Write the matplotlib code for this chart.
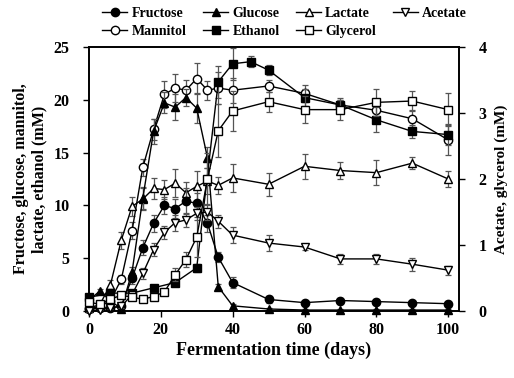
import matplotlib
matplotlib.use("Agg")
import matplotlib.pyplot as plt
from matplotlib.lines import Line2D

plt.rcParams['font.family'] = ['Liberation Serif', 'DejaVu Serif']
plt.rcParams['font.weight'] = 'bold'

days = [0, 3, 6, 9, 12, 15, 18, 21, 24, 27, 30, 33, 36, 40, 50, 60, 70, 80, 90, 100]
eth_days = [0, 6, 12, 18, 24, 30, 36, 40, 45, 50, 60, 70, 80, 90, 100]

fructose = [0.2, 0.3, 0.3, 0.5, 3.1, 6.0, 8.3, 10.0, 9.7, 10.4, 10.2, 8.3, 5.1, 2.7, 1.1, 0.8, 1.0, 0.9, 0.8, 0.7]
fructose_err = [0.1, 0.1, 0.1, 0.2, 0.5, 0.7, 0.8, 0.8, 0.9, 1.2, 1.0, 0.8, 0.5, 0.5, 0.3, 0.2, 0.2, 0.2, 0.2, 0.2]
glucose = [1.0, 1.9, 1.0, 0.2, 3.7, 10.7, 17.0, 19.7, 19.3, 20.2, 19.2, 14.5, 2.3, 0.5, 0.2, 0.1, 0.1, 0.1, 0.1, 0.1]
glucose_err = [0.1, 0.2, 0.1, 0.1, 0.5, 1.0, 1.2, 1.0, 1.2, 0.8, 1.4, 1.0, 0.3, 0.2, 0.1, 0.1, 0.1, 0.1, 0.1, 0.1]
mannitol = [0.3, 0.4, 1.0, 3.0, 7.6, 13.6, 17.2, 20.5, 21.1, 20.9, 22.0, 20.9, 21.1, 20.9, 21.3, 20.6, 19.5, 19.0, 18.2, 16.2]
mannitol_err = [0.1, 0.1, 0.2, 0.4, 0.8, 0.8, 1.0, 1.3, 1.3, 1.0, 1.5, 0.9, 1.5, 1.2, 0.6, 0.8, 0.5, 1.0, 0.8, 1.4]
lactate = [0.3, 0.6, 2.5, 6.7, 9.9, 10.6, 11.6, 11.5, 12.1, 11.2, 11.8, 12.3, 11.9, 12.6, 12.0, 13.7, 13.3, 13.1, 14.0, 12.5]
lactate_err = [0.1, 0.2, 0.4, 0.8, 0.9, 1.0, 1.0, 0.9, 1.3, 1.0, 1.5, 1.2, 0.8, 1.3, 1.1, 1.2, 0.8, 1.2, 0.6, 0.8]
ethanol = [1.3, 1.7, 1.7, 2.2, 2.7, 4.1, 21.7, 23.4, 23.6, 22.8, 20.2, 19.5, 18.1, 17.0, 16.7]
ethanol_err = [0.1, 0.1, 0.1, 0.2, 0.3, 0.4, 1.5, 1.5, 0.5, 0.5, 0.8, 0.7, 1.2, 0.6, 1.0]
acetate = [0.0, 0.02, 0.05, 0.07, 0.25, 0.57, 0.93, 1.19, 1.34, 1.38, 1.48, 1.5, 1.36, 1.15, 1.03, 0.97, 0.79, 0.79, 0.71, 0.62]
acetate_err = [0.01, 0.01, 0.02, 0.03, 0.05, 0.08, 0.1, 0.1, 0.12, 0.1, 0.1, 0.12, 0.1, 0.12, 0.12, 0.05, 0.07, 0.07, 0.1, 0.07]
glycerol = [0.14, 0.1, 0.18, 0.24, 0.21, 0.18, 0.22, 0.29, 0.55, 0.78, 1.12, 2.0, 2.73, 3.03, 3.17, 3.05, 3.05, 3.16, 3.18, 3.05]
glycerol_err = [0.02, 0.02, 0.03, 0.03, 0.03, 0.03, 0.05, 0.05, 0.1, 0.12, 0.3, 0.4, 0.4, 0.3, 0.15, 0.2, 0.15, 0.2, 0.15, 0.25]

fig = plt.figure(figsize=(5.14, 3.78), dpi=100)
ax = fig.add_axes([0.173, 0.177, 0.72, 0.699])
ax2 = ax.twinx()

ms = 6
common = dict(color='black', lw=1.0, ecolor='#555555', elinewidth=0.9, capsize=2.5, capthick=0.9, clip_on=False)

ax.errorbar(days, mannitol, yerr=mannitol_err, marker='o', mfc='white', mec='black', ms=ms, **common, zorder=3)
ax.errorbar(days, lactate, yerr=lactate_err, marker='^', mfc='white', mec='black', ms=ms, **common, zorder=3)
ax.errorbar(days, fructose, yerr=fructose_err, marker='o', mfc='black', mec='black', ms=ms, **common, zorder=4)
ax.errorbar(days, glucose, yerr=glucose_err, marker='^', mfc='black', mec='black', ms=ms, **common, zorder=4)
ax.errorbar(eth_days, ethanol, yerr=ethanol_err, marker='s', mfc='black', mec='black', ms=ms, **common, zorder=4)
ax2.errorbar(days, acetate, yerr=acetate_err, marker='v', mfc='white', mec='black', ms=ms, **common, zorder=3)
ax2.errorbar(days, glycerol, yerr=glycerol_err, marker='s', mfc='white', mec='black', ms=ms, **common, zorder=3)

ax.set_xlim(0, 103)
ax.set_ylim(0, 25)
ax2.set_ylim(0, 4)
ax.set_xticks([0, 20, 40, 60, 80, 100])
ax.set_yticks([0, 5, 10, 15, 20, 25])
ax2.set_yticks([0, 1, 2, 3, 4])

for a in (ax, ax2):
    for s in a.spines.values():
        s.set_linewidth(1.2)
    a.tick_params(direction='out', length=4, width=1.0, labelsize=11.5)
    for lab in a.get_xticklabels() + a.get_yticklabels():
        lab.set_fontweight('bold')
ax.tick_params(axis='y', pad=10)
ax2.tick_params(axis='y', pad=10)

ax.set_xlabel('Fermentation time (days)', fontsize=13, fontweight='bold', labelpad=3)
ax.set_ylabel('Fructose, glucose, mannitol,\nlactate, ethanol (mM)', fontsize=11.5, fontweight='bold', labelpad=4)
ax2.set_ylabel('Acetate, glycerol (mM)', fontsize=11, fontweight='bold', labelpad=6)

def h(marker, fill):
    return Line2D([], [], color='black', lw=1.0, marker=marker, mfc=fill, mec='black', ms=6)

handles = [h('o', 'black'), h('o', 'white'), h('^', 'black'), h('s', 'black'),
           h('^', 'white'), h('s', 'white'), h('v', 'white')]
labels = ['Fructose', 'Mannitol', 'Glucose', 'Ethanol', 'Lactate', 'Glycerol', 'Acetate']
fig.legend(handles, labels, ncol=4, loc='upper left', bbox_to_anchor=(0.175, 1.015),
           frameon=False, handlelength=1.8, handletextpad=0.3, columnspacing=1.2,
           labelspacing=0.35, prop={'family': 'Liberation Serif', 'weight': 'bold', 'size': 10})

fig.savefig('out.png', dpi=100)
